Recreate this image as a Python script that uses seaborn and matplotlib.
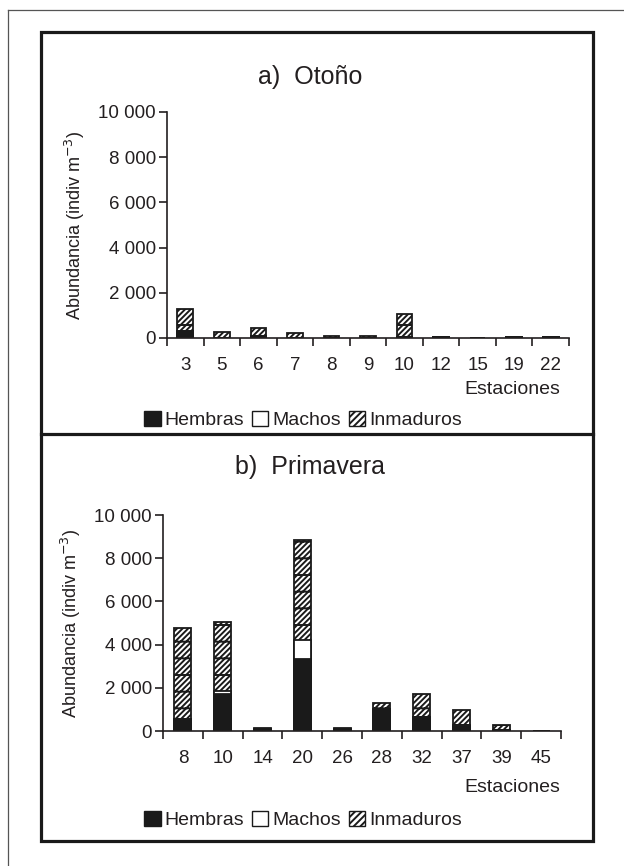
import matplotlib
matplotlib.use("Agg")
import matplotlib.pyplot as plt
import matplotlib.patches as mpatches
from matplotlib.lines import Line2D
import numpy as np
import pandas as pd
import seaborn as sns

# Autumn survey (a) and spring survey (b): abundance by station and stage
otono_estaciones = ["3", "5", "6", "7", "8", "9", "10", "12", "15", "19", "22"]
otono_hembras = [300, 20, 100, 10, 10, 10, 50, 40, 0, 40, 50]
otono_machos = [0, 0, 0, 0, 0, 0, 0, 0, 0, 0, 0]
otono_inmaduros = [1000, 230, 350, 230, 90, 90, 1000, 10, 0, 10, 10]

primavera_estaciones = ["8", "10", "14", "20", "26", "28", "32", "37", "39", "45"]
primavera_hembras = [550, 1700, 80, 3350, 80, 1000, 650, 250, 50, 0]
primavera_machos = [0, 150, 0, 850, 0, 0, 0, 50, 0, 0]
primavera_inmaduros = [4200, 3200, 50, 4650, 40, 300, 1050, 650, 250, 0]

y_ticks = [0, 2000, 4000, 6000, 8000, 10000]
y_ticklabels = ["0", "2 000", "4 000", "6 000", "8 000", "10 000"]

sns.set_theme(style="ticks")
plt.rcParams["font.family"] = ["Liberation Sans", "DejaVu Sans"]
plt.rcParams["hatch.linewidth"] = 1.4
plt.rcParams["hatch.color"] = "#2a2a2a"

TXT = "#231f20"
HATCH = "//////-"
W, H = 624, 866
fig = plt.figure(figsize=(W / 100, H / 100), dpi=100)


def px_axes(x0, y_top, x1, y_bot):
    return fig.add_axes([x0 / W, 1 - y_bot / H, (x1 - x0) / W, (y_bot - y_top) / H])


def draw_panel(ax, estaciones, hembras, machos, inmaduros, titulo, title_y, legend_y, est_y):
    df = pd.DataFrame({
        "Estacion": estaciones,
        "total": np.array(hembras) + np.array(machos) + np.array(inmaduros),
        "hm": np.array(hembras) + np.array(machos),
        "h": np.array(hembras),
    })
    common = dict(data=df, x="Estacion", order=estaciones, ax=ax, width=0.43,
                  edgecolor="#1a1a1a", linewidth=1.3, saturation=1)
    sns.barplot(y="total", color="white", hatch=HATCH, **common)
    sns.barplot(y="hm", color="white", **common)
    sns.barplot(y="h", color="#1a1a1a", **common)

    n = len(estaciones)
    ax.set_xlim(-0.5, n - 0.5)
    ax.set_ylim(0, 10000)
    ax.set_yticks(y_ticks)
    ax.set_yticklabels(y_ticklabels)
    ax.set_xticks(range(n))
    ax.set_xticklabels(estaciones)
    ax.tick_params(axis="x", length=0, pad=14, labelsize=13.5, colors=TXT)
    ax.set_xticks(np.arange(-0.5, n, 1.0), minor=True)
    ax.tick_params(axis="x", which="minor", length=6, width=1.2, color=TXT, direction="out")
    ax.tick_params(axis="y", length=6, width=1.2, labelsize=13.5, colors=TXT, pad=2)
    for s in ("top", "right"):
        ax.spines[s].set_visible(False)
    for s in ("left", "bottom"):
        ax.spines[s].set_linewidth(1.2)
        ax.spines[s].set_color(TXT)
    ax.set_xlabel("")
    ax.set_ylabel(r"Abundancia (indiv m$^{-3}$)", fontsize=13, color=TXT, labelpad=6)
    ax.yaxis.set_label_coords(-0.2, 0.5)

    fig.text(310 / W, 1 - title_y / H, titulo, ha="center", va="center",
             fontsize=18, color=TXT)
    fig.text(560 / W, 1 - est_y / H, "Estaciones", ha="right", va="center",
             fontsize=14, color=TXT)

    handles = [
        mpatches.Patch(facecolor="#1a1a1a", edgecolor="#1a1a1a", label="Hembras"),
        mpatches.Patch(facecolor="white", edgecolor="#1a1a1a", label="Machos"),
        mpatches.Patch(facecolor="white", edgecolor="#1a1a1a", hatch="/////", label="Inmaduros"),
    ]
    fig.legend(handles=handles, loc="center", bbox_to_anchor=(303 / W, 1 - legend_y / H),
               ncol=3, frameon=False, fontsize=14, handlelength=0.85, handleheight=0.85,
               handletextpad=0.2, columnspacing=0.4, labelcolor=TXT,
               borderaxespad=0, borderpad=0)


ax_a = px_axes(167, 112, 569, 338)
draw_panel(ax_a, otono_estaciones, otono_hembras, otono_machos, otono_inmaduros,
           "a)  Otoño", 77, 420, 389)

ax_b = px_axes(163, 515, 561, 731)
draw_panel(ax_b, primavera_estaciones, primavera_hembras, primavera_machos,
           primavera_inmaduros, "b)  Primavera", 467, 820, 787)

# Frames: thin outer border (top and left), thick inner box and panel divider
def fig_line(xs, ys, lw, color):
    fig.add_artist(Line2D([x / W for x in xs], [1 - y / H for y in ys],
                          linewidth=lw, color=color, solid_capstyle="projecting"))

fig_line([8, 624], [10, 10], 0.9, "#555555")
fig_line([8, 8], [10, 866], 0.9, "#555555")
fig.add_artist(mpatches.Rectangle((41 / W, 1 - 841 / H), (593 - 41) / W, (841 - 32) / H,
                                  transform=fig.transFigure, fill=False,
                                  linewidth=2.3, edgecolor="#1a1a1a"))
fig_line([41, 593], [434, 434], 2.3, "#1a1a1a")

fig.savefig("out.png", dpi=100)
